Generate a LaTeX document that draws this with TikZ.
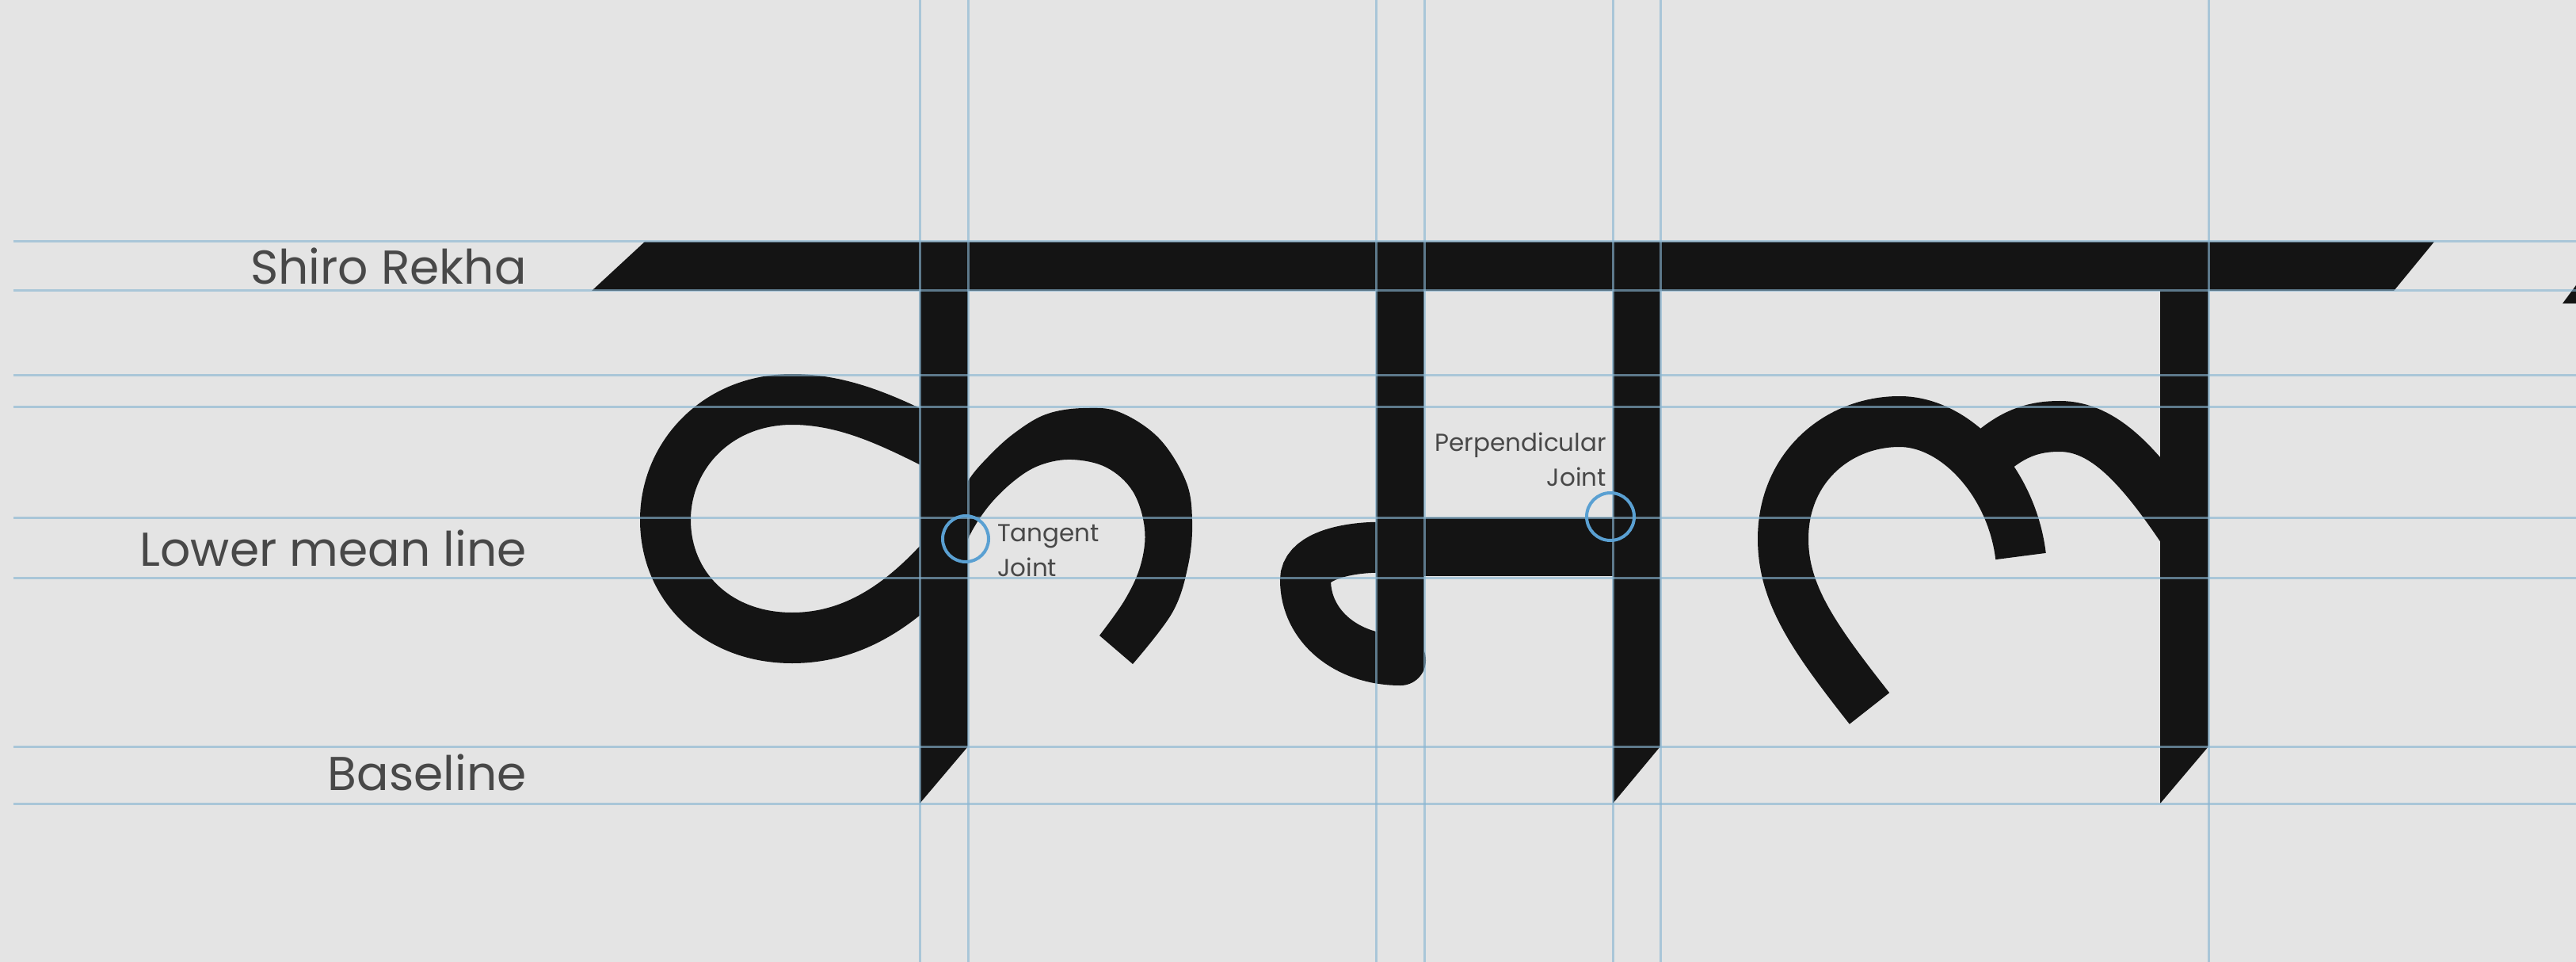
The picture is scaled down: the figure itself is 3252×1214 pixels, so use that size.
\documentclass[tikz,border=0pt]{standalone}
\usepackage{fontspec}
\setmainfont{Poppins}
\usepackage{tikz}

\definecolor{paper}{RGB}{228,228,228}
\definecolor{guideblue}{RGB}{136,181,210}
\definecolor{ink}{RGB}{20,20,20}
\definecolor{jointblue}{RGB}{90,160,210}
\definecolor{labelgrey}{RGB}{72,72,72}

\begin{document}
\begin{tikzpicture}[x=1pt, y=-1pt,
  guide/.style={guideblue, line width=3pt, opacity=0.63},
  glyph/.style={ink, line width=64pt},
  joint/.style={jointblue, line width=4pt},
  biglabel/.style={inner sep=0pt, text=labelgrey, font=\fontsize{60}{72}\selectfont},
  smalllabel/.style={inner sep=0pt, text=labelgrey, font=\fontsize{31}{44}\selectfont}]

\fill[paper] (0,0) rectangle (3252,1214);
\useasboundingbox (0,0) rectangle (3252,1214);

% shiro rekha
\fill[ink] (747,367) -- (814,305) -- (3073,305) -- (3022,367) -- cycle;
\fill[ink] (3235,383) -- (3252,360) -- (3252,383) -- cycle;

% stems
\foreach \xl/\xr in {1161/1222, 2036/2096, 2727/2788}
  \fill[ink] (\xl,305) -- (\xr,305) -- (\xr,942) -- (\xl,1014) -- cycle;
\fill[ink] (1737,305) rectangle (1798,833);

% ka
\draw[glyph] (1190,565) .. controls (1130,535) and (1070,504) .. (1000,504)
  .. controls (905,504) and (840,575) .. (840,656)
  .. controls (840,740) and (905,805) .. (1000,805)
  .. controls (1080,805) and (1140,760) .. (1190,705);
\fill[ink] plot[smooth, tension=0.6] coordinates {(1200,650) (1222,607) (1247,577) (1280,547) (1320,523) (1367,515) (1413,520) (1463,553) (1497,607) (1505,657) (1500,713) (1480,773) (1430,838)}
  -- plot[smooth, tension=0.6] coordinates {(1388,802) (1420,757) (1440,713) (1445,667) (1430,620) (1397,590) (1353,580) (1313,587) (1280,607) (1247,640) (1222,680) (1210,720)} -- cycle;

% ma
\fill[ink] (1737,653) rectangle (2096,727);
\draw[glyph, line cap=round] (1768,690) -- (1730,691) .. controls (1690,693) and (1648,705) .. (1648,732)
  .. controls (1648,790) and (1700,833) .. (1768,833);

% la
\draw[glyph] (2360,894) .. controls (2290,805) and (2251,750) .. (2251,680)
  .. controls (2251,590) and (2320,532) .. (2398,532)
  .. controls (2470,532) and (2540,610) .. (2551,702);
\draw[glyph] (2515,570) .. controls (2545,545) and (2570,538) .. (2600,538)
  .. controls (2655,538) and (2700,585) .. (2760,675);

% guides
\foreach \y in {305,367,473,513,653,729,942,1014}
  \draw[guide] (17,\y) -- (3252,\y);
\foreach \x in {1161,1222,1737,1798,2036,2096,2788}
  \draw[guide] (\x,0) -- (\x,1214);

% joints
\draw[joint] (1219,680) circle[radius=29pt];
\draw[joint] (2033,652) circle[radius=30pt];

\node[biglabel, anchor=base east] (shiro) at (665,359) {Shiro Rekha};
\node[biglabel, anchor=base east] (mean) at (665,714) {Lower mean line};
\node[biglabel, anchor=base east] (baseline) at (665,997) {Baseline};
\node[smalllabel, align=left, anchor=base west] (tangent) at (1259,727) {Tangent\\Joint};
\node[smalllabel, align=right, anchor=base east] (perp) at (2028,613) {Perpendicular\\Joint};
\end{tikzpicture}
\end{document}
